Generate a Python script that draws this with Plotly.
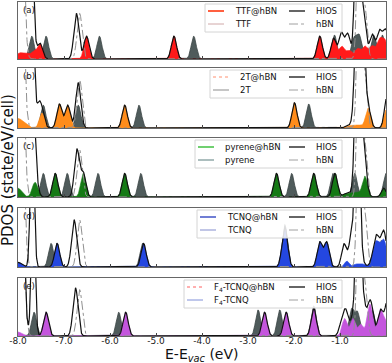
import numpy as np
import plotly.graph_objects as go

# ---------------- data (peak energies in eV, peak heights in state/eV/cell, widths in eV) -------------
energy_range = [-8.0, 0.0]
tick_values = [-8.0, -7.0, -6.0, -5.0, -4.0, -3.0, -2.0, -1.0, 0.0]
tick_labels = ["-8.0", "-7.0", "-6.0", "-5.0", "-4.0", "-3.0", "-2.0", "-1.0", "0.0"]
panel_tags = ["(a)", "(b)", "(c)", "(d)", "(e)"]

# isolated hBN (dash-dot)
hbn_E = [-7.93, -6.66, -0.58, -0.46]
hbn_h = [3.0, 0.80, 3.0, 0.90]
hbn_w = [0.06, 0.055, 0.045, 0.05]

# (a) TTF
ttf_E = [-7.70, -7.39, -6.23, -4.18, -1.12, -0.70, -0.58, -0.27, -0.08]
ttf_h = [0.40, 0.40, 0.40, 0.40, 0.42, 0.35, 0.40, 0.42, 0.42]
ttf_w = [0.055] * 9
ttf_hbn_E = [-7.97, -7.82, -7.66, -7.52, -6.51, -4.61, -1.44, -1.14, -0.96, -0.80, -0.62, -0.46, -0.30, -0.14, -0.02]
ttf_hbn_h = [0.10, 0.08, 0.12, 0.27, 0.40, 0.40, 0.40, 0.36, 0.22, 0.15, 0.18, 0.22, 0.22, 0.32, 0.30]
ttf_hbn_w = [0.07, 0.07, 0.06, 0.055, 0.055, 0.055, 0.055, 0.055, 0.06, 0.06, 0.06, 0.06, 0.06, 0.06, 0.06]
hios_a_E = [-7.90, -7.72, -6.73, -0.98, -0.84, -0.62, -0.50, -0.30, -0.15, 0.0]
hios_a_h = [3.0, 2.0, 0.80, 0.25, 0.30, 3.0, 0.60, 0.20, 0.15, 0.20]
hios_a_w = [0.08, 0.05, 0.055, 0.05, 0.05, 0.05, 0.05, 0.05, 0.05, 0.05]

# (b) 2T
t2_E = [-7.45, -6.69, -5.37, -1.68]
t2_h = [0.38, 0.38, 0.38, 0.40]
t2_w = [0.055] * 4
t2_hbn_E = [-8.00, -7.85, -7.48, -7.10, -6.92, -5.68, -1.99, -0.80, -0.60, -0.39, 0.0]
t2_hbn_h = [0.15, 0.05, 0.25, 0.40, 0.38, 0.38, 0.42, 0.04, 0.05, 0.33, 0.30]
t2_hbn_w = [0.08, 0.08, 0.055, 0.055, 0.055, 0.055, 0.055, 0.08, 0.08, 0.055, 0.05]
hios_b_E = [-7.88, -7.70, -7.55, -6.69, -0.60, -0.50, 0.05]
hios_b_h = [3.0, 1.5, 0.30, 0.75, 3.0, 1.2, 0.30]
hios_b_w = [0.10, 0.05, 0.05, 0.055, 0.06, 0.05, 0.05]

# (c) pyrene
pyr_E = [-7.45, -6.93, -6.26, -5.33, -2.05, -1.15, -0.68, 0.0]
pyr_h = [0.40] * 8
pyr_w = [0.055] * 8
pyr_hbn_E = [-8.00, -7.63, -7.19, -6.58, -5.68, -2.38, -1.57, -1.11, -0.85, -0.65, -0.46, -0.05]
pyr_hbn_h = [0.15, 0.25, 0.40, 0.40, 0.40, 0.40, 0.40, 0.40, 0.06, 0.08, 0.35, 0.15]
pyr_hbn_w = [0.08, 0.06, 0.055, 0.055, 0.055, 0.055, 0.055, 0.055, 0.08, 0.08, 0.055, 0.05]
hios_c_E = [-7.88, -7.68, -6.72, -0.62, -0.52]
hios_c_h = [3.0, 1.2, 0.80, 3.0, 0.80]
hios_c_w = [0.10, 0.05, 0.055, 0.05, 0.05]

# (d) TCNQ
tcnq_E = [-7.28, -5.29, -2.20, -0.10]
tcnq_h = [0.40, 0.40, 0.72, 0.45]
tcnq_w = [0.055] * 4
tcnq_hbn_E = [-8.00, -7.15, -5.27, -2.20, -1.44, -1.29, -0.85, -0.65, -0.50, -0.22, -0.05]
tcnq_hbn_h = [0.08, 0.40, 0.40, 0.68, 0.42, 0.42, 0.10, 0.05, 0.05, 0.42, 0.45]
tcnq_hbn_w = [0.08, 0.055, 0.055, 0.06, 0.055, 0.055, 0.05, 0.06, 0.06, 0.07, 0.07]
hios_d_E = [-7.69, -6.78, -0.92, -0.75, -0.62, -0.20, -0.05]
hios_d_h = [2.5, 0.80, 0.35, 0.50, 3.0, 0.10, 0.15]
hios_d_w = [0.04, 0.055, 0.05, 0.05, 0.05, 0.05, 0.05]

# (e) F4-TCNQ
f4_E = [-7.65, -5.81, -2.78, -2.31, -1.57, -0.75, -0.62, -0.30]
f4_h = [0.41, 0.41, 0.45, 0.45, 0.52, 0.45, 0.40, 0.45]
f4_w = [0.055] * 8
f4_hbn_E = [-8.00, -7.39, -5.66, -2.64, -2.17, -1.57, -0.90, -0.72, -0.55, -0.35, -0.12, 0.0]
f4_hbn_h = [0.07, 0.41, 0.41, 0.41, 0.41, 0.48, 0.30, 0.30, 0.20, 0.55, 0.45, 0.20]
f4_hbn_w = [0.08, 0.055, 0.055, 0.055, 0.055, 0.055, 0.055, 0.055, 0.055, 0.06, 0.06, 0.05]
hios_e_E = [-7.93, -7.67, -6.75, -0.98, -0.85, -0.60, -0.48, -0.30, 0.05]
hios_e_h = [3.0, 2.5, 0.83, 0.15, 0.20, 3.0, 0.40, 0.10, 0.50]
hios_e_w = [0.06, 0.04, 0.055, 0.05, 0.05, 0.05, 0.05, 0.05, 0.05]

panels = [
    dict(mol="TTF", E=ttf_E, h=ttf_h, w=ttf_w, cE=ttf_hbn_E, ch=ttf_hbn_h, cw=ttf_hbn_w,
         hE=hios_a_E, hh=hios_a_h, hw=hios_a_w),
    dict(mol="2T", E=t2_E, h=t2_h, w=t2_w, cE=t2_hbn_E, ch=t2_hbn_h, cw=t2_hbn_w,
         hE=hios_b_E, hh=hios_b_h, hw=hios_b_w),
    dict(mol="pyrene", E=pyr_E, h=pyr_h, w=pyr_w, cE=pyr_hbn_E, ch=pyr_hbn_h, cw=pyr_hbn_w,
         hE=hios_c_E, hh=hios_c_h, hw=hios_c_w),
    dict(mol="TCNQ", E=tcnq_E, h=tcnq_h, w=tcnq_w, cE=tcnq_hbn_E, ch=tcnq_hbn_h, cw=tcnq_hbn_w,
         hE=hios_d_E, hh=hios_d_h, hw=hios_d_w),
    dict(mol="F<sub>4</sub>-TCNQ", E=f4_E, h=f4_h, w=f4_w, cE=f4_hbn_E, ch=f4_hbn_h, cw=f4_hbn_w,
         hE=hios_e_E, hh=hios_e_h, hw=hios_e_w),
]

# ---------------- styles ----------------
fill_colors = ["#ff1a1a", "#ff8c1a", "#157a15", "#2447e0", "#c455dd"]
legend_col1 = [  # (color, width, dash) for "@hBN" and molecule entries
    (("#ff6040", 2.0, "solid"), ("#d0a8a8", 1.0, "solid")),
    (("#ff9070", 1.0, "dot"), ("#a0a0a0", 1.2, "solid")),
    (("#40c040", 1.5, "solid"), ("#90a8a8", 1.5, "solid")),
    (("#6070d0", 1.8, "solid"), ("#a0a8d8", 1.3, "solid")),
    (("#ff6060", 1.0, "dot"), ("#8090d8", 1.0, "solid")),
]
legend_text_x = [233, 238, 223, 225, 212]   # left edge (px) of first legend column text
gray_fill = "#4f5b5b"
font_family = "DejaVu Sans, Liberation Sans, Arial, sans-serif"

W, H = 392, 363
ML, MR, MT, MB = 18, 6, 2, 27
PW, PH = W - ML - MR, H - MT - MB
panel_px = [(2, 59), (68, 128), (138, 197), (208, 267), (278, 336)]


def px_x(px):
    return (px - ML) / PW


def px_y(py):
    return (H - MB - py) / PH


grid = np.linspace(energy_range[0], energy_range[1], 1601)


def dos(Es, hs, ws):
    out = np.zeros_like(grid)
    for e, h, w in zip(Es, hs, ws):
        out += h * np.exp(-0.5 * ((grid - e) / w) ** 2)
    return out


fig = go.Figure()
shapes, annotations = [], []
layout = {}
hbn_curve = dos(hbn_E, hbn_h, hbn_w)

for i, p in enumerate(panels):
    k = "" if i == 0 else str(i + 1)
    xa, ya = "x" + k, "y" + k
    mol = dos(p["E"], p["h"], p["w"])
    mol_hbn = dos(p["cE"], p["ch"], p["cw"])
    hios = dos(p["hE"], p["hh"], p["hw"]) + mol_hbn
    fig.add_trace(go.Scatter(x=grid, y=mol, mode="lines", fill="tozeroy", fillcolor=gray_fill,
                             line=dict(color="#3a4444", width=0.8), xaxis=xa, yaxis=ya, showlegend=False,
                             hoverinfo="skip"))
    fig.add_trace(go.Scatter(x=grid, y=mol_hbn, mode="lines", fill="tozeroy", fillcolor=fill_colors[i],
                             line=dict(color=fill_colors[i], width=0.6), xaxis=xa, yaxis=ya, showlegend=False,
                             hoverinfo="skip"))
    fig.add_trace(go.Scatter(x=grid, y=hbn_curve, mode="lines",
                             line=dict(color="#909090", width=1.0, dash="dashdot"),
                             xaxis=xa, yaxis=ya, showlegend=False, hoverinfo="skip"))
    fig.add_trace(go.Scatter(x=grid, y=hios, mode="lines", line=dict(color="#111111", width=1.2),
                             xaxis=xa, yaxis=ya, showlegend=False, hoverinfo="skip"))

    top, bot = panel_px[i]
    layout["xaxis" + k] = dict(domain=[0, 1], range=energy_range, anchor=ya, tickvals=tick_values,
                               ticktext=tick_labels, showticklabels=(i == 4), ticks="inside",
                               ticklen=3, tickcolor="#444", showline=True, linecolor="#666",
                               linewidth=1, mirror=True, showgrid=False, zeroline=False,
                               ticklabelstandoff=-4,
                               tickfont=dict(size=9, color="#222", family=font_family))
    layout["yaxis" + k] = dict(domain=[px_y(bot), px_y(top)], range=[0, 1], anchor=xa,
                               showticklabels=False, ticks="", showline=True, linecolor="#666",
                               linewidth=1, mirror=True, showgrid=False, zeroline=False)

    # panel tag
    annotations.append(dict(text=panel_tags[i], xref="paper", yref="paper", x=px_x(21), y=px_y(top + 8),
                            xanchor="left", yanchor="middle", showarrow=False,
                            font=dict(size=8.5, color="#111", family=font_family)))
    # legend box
    tx = legend_text_x[i]
    shapes.append(dict(type="rect", xref="paper", yref="paper", x0=px_x(tx - 28), x1=px_x(342),
                       y0=px_y(top + 30), y1=px_y(top + 2), line=dict(color="#d4d4d4", width=1),
                       fillcolor="rgba(255,255,255,0.85)", layer="above"))
    names = [p["mol"] + "@hBN", p["mol"], "HIOS", "hBN"]
    styles = [legend_col1[i][0], legend_col1[i][1], ("#111111", 1.3, "solid"), ("#a0a0a0", 1.0, "dashdot")]
    spots = [(tx - 25, top + 9), (tx - 25, top + 22), (289, top + 9), (289, top + 22)]
    for name, (col, lw, dash), (sx, sy) in zip(names, styles, spots):
        shapes.append(dict(type="line", xref="paper", yref="paper", x0=px_x(sx), x1=px_x(sx + 16),
                           y0=px_y(sy), y1=px_y(sy), line=dict(color=col, width=lw, dash=dash),
                           layer="above"))
        annotations.append(dict(text=name, xref="paper", yref="paper", x=px_x(sx + 25), y=px_y(sy),
                                xanchor="left", yanchor="middle", showarrow=False,
                                font=dict(size=8.5, color="#111", family=font_family)))

annotations.append(dict(text="E-E<sub><i>vac</i></sub> (eV)", xref="paper", yref="paper",
                        x=px_x(202), y=px_y(355), xanchor="center", yanchor="middle", showarrow=False,
                        font=dict(size=14, color="#111", family=font_family)))
annotations.append(dict(text="PDOS (state/eV/cell)", xref="paper", yref="paper", x=px_x(8),
                        y=px_y(170), xanchor="center", yanchor="middle", textangle=-90, showarrow=False,
                        font=dict(size=15, color="#111", family=font_family)))

fig.update_layout(width=W, height=H, margin=dict(l=ML, r=MR, t=MT, b=MB, pad=0),
                  paper_bgcolor="white", plot_bgcolor="white", showlegend=False, hovermode=False,
                  shapes=shapes, annotations=annotations, **layout)
fig.write_html("out.html", config={"displayModeBar": False, "staticPlot": True},
               post_script="document.body.style.margin='0';document.body.style.overflow='hidden';")
